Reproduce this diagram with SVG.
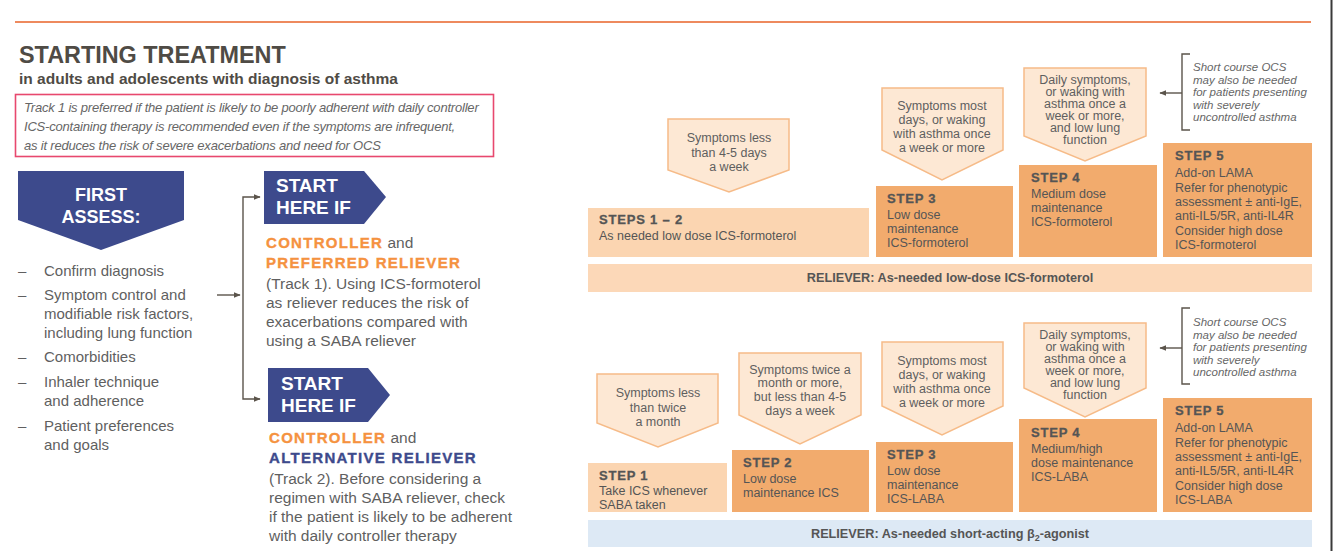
<svg xmlns="http://www.w3.org/2000/svg" width="1334" height="551" viewBox="0 0 1334 551">
<style>
text{font-family:"Liberation Sans",Arial,sans-serif;fill:#5f5f5f}
.title{font-size:23.4px;font-weight:bold;fill:#4f4b45}
.sub{font-size:15.5px;font-weight:bold;fill:#4f4b45}
.ital{font-size:13px;font-style:italic;letter-spacing:-0.2px;fill:#666}
.wh{font-size:19px;font-weight:bold;fill:#fff}
.bul{font-size:15px}
.body{font-size:15.5px}
.or{font-size:15px;font-weight:bold;letter-spacing:1.3px;fill:#f59240;stroke:#f59240;stroke-width:0.35px}
.nv{font-size:15px;font-weight:bold;letter-spacing:1.3px;fill:#3d4a8c;stroke:#3d4a8c;stroke-width:0.35px}
.pent{fill:#fde8d4;stroke:#f6bb88;stroke-width:1.5}
.pt{font-size:12.5px;text-anchor:middle}
.lt{fill:#fbd5b1}
.dk{fill:#f2ab6d}
.sh{font-size:13px;font-weight:bold;letter-spacing:0.8px;fill:#555;stroke:#555;stroke-width:0.3px}
.st{font-size:12.5px;fill:#555}
.rl{font-size:12.7px;font-weight:bold;text-anchor:middle;fill:#555}
.co{font-size:11.5px;font-style:italic;fill:#666}
.navy{fill:#3d4a8c}
.ln{fill:none;stroke:#5b544b;stroke-width:1.4}
</style>
<defs>
<marker id="ah" viewBox="0 0 10 10" refX="9" refY="5" markerWidth="7" markerHeight="7" orient="auto-start-reverse" markerUnits="userSpaceOnUse">
<path d="M0,1 L10,5 L0,9 z" fill="#5b544b"/>
</marker>
</defs>
<rect width="1334" height="551" fill="#fff"/>
<line x1="15" y1="22" x2="1311" y2="22" stroke="#ee8a5e" stroke-width="2"/>
<line x1="1331.5" y1="0" x2="1331.5" y2="551" stroke="#3a3a3a" stroke-width="2"/>

<g id="header">
<text class="title" x="19" y="63">STARTING TREATMENT</text>
<text class="sub" x="19" y="84">in adults and adolescents with diagnosis of asthma</text>
</g>

<g id="note">
<rect x="15.5" y="94.5" width="478" height="62" fill="none" stroke="#e8486e" stroke-width="1.6"/>
<text class="ital" x="24" y="112">Track 1 is preferred if the patient is likely to be poorly adherent with daily controller</text>
<text class="ital" x="24" y="131">ICS-containing therapy is recommended even if the symptoms are infrequent,</text>
<text class="ital" x="24" y="150">as it reduces the risk of severe exacerbations and need for OCS</text>
</g>

<g id="first-assess">
<path class="navy" d="M18,171 H184 V220 L101,250 L18,220 Z"/>
<text class="wh" x="101" y="201" text-anchor="middle" style="font-size:18px">FIRST</text>
<text class="wh" x="101" y="223" text-anchor="middle" style="font-size:18px">ASSESS:</text>
<text class="bul" x="18" y="276">–</text><text class="bul" x="44" y="276">Confirm diagnosis</text>
<text class="bul" x="18" y="300">–</text><text class="bul" x="44" y="300">Symptom control and</text>
<text class="bul" x="44" y="319">modifiable risk factors,</text>
<text class="bul" x="44" y="338">including lung function</text>
<text class="bul" x="18" y="362">–</text><text class="bul" x="44" y="362">Comorbidities</text>
<text class="bul" x="18" y="387">–</text><text class="bul" x="44" y="387">Inhaler technique</text>
<text class="bul" x="44" y="406">and adherence</text>
<text class="bul" x="18" y="431">–</text><text class="bul" x="44" y="431">Patient preferences</text>
<text class="bul" x="44" y="450">and goals</text>
</g>

<g id="connectors">
<line class="ln" x1="217" y1="295" x2="240" y2="295" marker-end="url(#ah)"/>
<path class="ln" d="M260,197 H243 V399 H260" marker-end="url(#ah)" marker-start="url(#ah)"/>
<line class="ln" x1="1182" y1="93" x2="1160" y2="93" marker-end="url(#ah)"/>
<line class="ln" x1="1182" y1="348" x2="1160" y2="348" marker-end="url(#ah)"/>
<path class="ln" d="M1190,54 H1182 V130 H1190"/>
<path class="ln" d="M1190,308 H1182 V384 H1190"/>
</g>

<g id="track1-start">
<path class="navy" d="M264,171 H364 L386,197 L364,224 H264 Z"/>
<text class="wh" x="276" y="192">START</text>
<text class="wh" x="276" y="214">HERE IF</text>
<text x="266" y="248"><tspan class="or">CONTROLLER</tspan><tspan class="body"> and</tspan></text>
<text class="or" x="266" y="268">PREFERRED RELIEVER</text>
<text class="body" x="266" y="289">(Track 1). Using ICS-formoterol</text>
<text class="body" x="266" y="308">as reliever reduces the risk of</text>
<text class="body" x="266" y="327">exacerbations compared with</text>
<text class="body" x="266" y="346">using a SABA reliever</text>
</g>

<g id="track2-start">
<path class="navy" d="M268,368 H368 L390,395 L368,422 H268 Z"/>
<text class="wh" x="281" y="390">START</text>
<text class="wh" x="281" y="412">HERE IF</text>
<text x="269" y="443"><tspan class="or">CONTROLLER</tspan><tspan class="body"> and</tspan></text>
<text class="nv" x="269" y="463">ALTERNATIVE RELIEVER</text>
<text class="body" x="269" y="484">(Track 2). Before considering a</text>
<text class="body" x="269" y="503">regimen with SABA reliever, check</text>
<text class="body" x="269" y="522">if the patient is likely to be adherent</text>
<text class="body" x="269" y="541">with daily controller therapy</text>
</g>

<g id="t1-steps12">
<path class="pent" d="M668,119 H789 V170 L729,192 L668,170 Z"/>
<text class="pt" x="729" y="142">Symptoms less</text>
<text class="pt" x="729" y="157">than 4-5 days</text>
<text class="pt" x="729" y="171">a week</text>
<rect class="lt" x="588" y="208" width="281" height="49"/>
<text class="sh" x="599" y="224">STEPS 1 – 2</text>
<text class="st" x="599" y="240">As needed low dose ICS-formoterol</text>
</g>

<g id="t1-step3">
<path class="pent" d="M882,88 H1003 V150 L942,180 L882,150 Z"/>
<text class="pt" x="942" y="110">Symptoms most</text>
<text class="pt" x="942" y="124">days, or waking</text>
<text class="pt" x="942" y="138">with asthma once</text>
<text class="pt" x="942" y="152">a week or more</text>
<rect class="dk" x="876" y="186" width="137" height="71"/>
<text class="sh" x="887" y="203">STEP 3</text>
<text class="st" x="887" y="219">Low dose</text>
<text class="st" x="887" y="233">maintenance</text>
<text class="st" x="887" y="247">ICS-formoterol</text>
</g>

<g id="t1-step4">
<path class="pent" d="M1024,68 H1146 V136 L1085,161 L1024,136 Z"/>
<text class="pt" x="1085" y="84">Daily symptoms,</text>
<text class="pt" x="1085" y="96">or waking with</text>
<text class="pt" x="1085" y="108">asthma once a</text>
<text class="pt" x="1085" y="120">week or more,</text>
<text class="pt" x="1085" y="132">and low lung</text>
<text class="pt" x="1085" y="144">function</text>
<rect class="dk" x="1019" y="165" width="138" height="92"/>
<text class="sh" x="1031" y="182">STEP 4</text>
<text class="st" x="1031" y="198">Medium dose</text>
<text class="st" x="1031" y="212">maintenance</text>
<text class="st" x="1031" y="226">ICS-formoterol</text>
</g>

<g id="t1-step5">
<rect class="dk" x="1163" y="143" width="149" height="114"/>
<text class="sh" x="1175" y="160">STEP 5</text>
<text class="st" x="1175" y="177">Add-on LAMA</text>
<text class="st" x="1175" y="192">Refer for phenotypic</text>
<text class="st" x="1175" y="206">assessment ± anti-IgE,</text>
<text class="st" x="1175" y="220">anti-IL5/5R, anti-IL4R</text>
<text class="st" x="1175" y="235">Consider high dose</text>
<text class="st" x="1175" y="249">ICS-formoterol</text>
</g>

<g id="t1-ocs">
<text class="co" x="1193" y="71">Short course OCS</text>
<text class="co" x="1193" y="83.5">may also be needed</text>
<text class="co" x="1193" y="96">for patients presenting</text>
<text class="co" x="1193" y="108.5">with severely</text>
<text class="co" x="1193" y="121">uncontrolled asthma</text>
</g>

<g id="t1-reliever">
<rect x="588" y="264" width="724" height="28" fill="#fcd8b8"/>
<text class="rl" x="950" y="282">RELIEVER: As-needed low-dose ICS-formoterol</text>
</g>

<g id="t2-step1">
<path class="pent" d="M597,374 H718 V423 L658,447 L597,423 Z"/>
<text class="pt" x="658" y="397">Symptoms less</text>
<text class="pt" x="658" y="412">than twice</text>
<text class="pt" x="658" y="426">a month</text>
<rect class="lt" x="588" y="463" width="139" height="49"/>
<text class="sh" x="599" y="480">STEP 1</text>
<text class="st" x="599" y="495">Take ICS whenever</text>
<text class="st" x="599" y="509">SABA taken</text>
</g>

<g id="t2-step2">
<path class="pent" d="M739,353 H861 V415 L800,444 L739,415 Z"/>
<text class="pt" x="800" y="374">Symptoms twice a</text>
<text class="pt" x="800" y="387">month or more,</text>
<text class="pt" x="800" y="401">but less than 4-5</text>
<text class="pt" x="800" y="415">days a week</text>
<rect class="dk" x="732" y="450" width="137" height="62"/>
<text class="sh" x="743" y="467">STEP 2</text>
<text class="st" x="743" y="483">Low dose</text>
<text class="st" x="743" y="497">maintenance ICS</text>
</g>

<g id="t2-step3">
<path class="pent" d="M882,342 H1003 V406 L942,435 L882,406 Z"/>
<text class="pt" x="942" y="365">Symptoms most</text>
<text class="pt" x="942" y="379">days, or waking</text>
<text class="pt" x="942" y="393">with asthma once</text>
<text class="pt" x="942" y="407">a week or more</text>
<rect class="dk" x="876" y="442" width="137" height="70"/>
<text class="sh" x="887" y="459">STEP 3</text>
<text class="st" x="887" y="475">Low dose</text>
<text class="st" x="887" y="489">maintenance</text>
<text class="st" x="887" y="503">ICS-LABA</text>
</g>

<g id="t2-step4">
<path class="pent" d="M1024,323 H1146 V388 L1085,417 L1024,388 Z"/>
<text class="pt" x="1085" y="339">Daily symptoms,</text>
<text class="pt" x="1085" y="351">or waking with</text>
<text class="pt" x="1085" y="363">asthma once a</text>
<text class="pt" x="1085" y="375">week or more,</text>
<text class="pt" x="1085" y="387">and low lung</text>
<text class="pt" x="1085" y="399">function</text>
<rect class="dk" x="1019" y="419" width="138" height="93"/>
<text class="sh" x="1031" y="437">STEP 4</text>
<text class="st" x="1031" y="453">Medium/high</text>
<text class="st" x="1031" y="467">dose maintenance</text>
<text class="st" x="1031" y="481">ICS-LABA</text>
</g>

<g id="t2-step5">
<rect class="dk" x="1163" y="398" width="149" height="114"/>
<text class="sh" x="1175" y="415">STEP 5</text>
<text class="st" x="1175" y="432">Add-on LAMA</text>
<text class="st" x="1175" y="447">Refer for phenotypic</text>
<text class="st" x="1175" y="461">assessment ± anti-IgE,</text>
<text class="st" x="1175" y="475">anti-IL5/5R, anti-IL4R</text>
<text class="st" x="1175" y="490">Consider high dose</text>
<text class="st" x="1175" y="504">ICS-LABA</text>
</g>

<g id="t2-ocs">
<text class="co" x="1193" y="326">Short course OCS</text>
<text class="co" x="1193" y="338.5">may also be needed</text>
<text class="co" x="1193" y="351">for patients presenting</text>
<text class="co" x="1193" y="363.5">with severely</text>
<text class="co" x="1193" y="376">uncontrolled asthma</text>
</g>

<g id="t2-reliever">
<rect x="588" y="520" width="724" height="27" fill="#dde9f5"/>
<text class="rl" x="950" y="538">RELIEVER: As-needed short-acting β<tspan font-size="9" dy="3">2</tspan><tspan dy="-3">-agonist</tspan></text>
</g>
</svg>
